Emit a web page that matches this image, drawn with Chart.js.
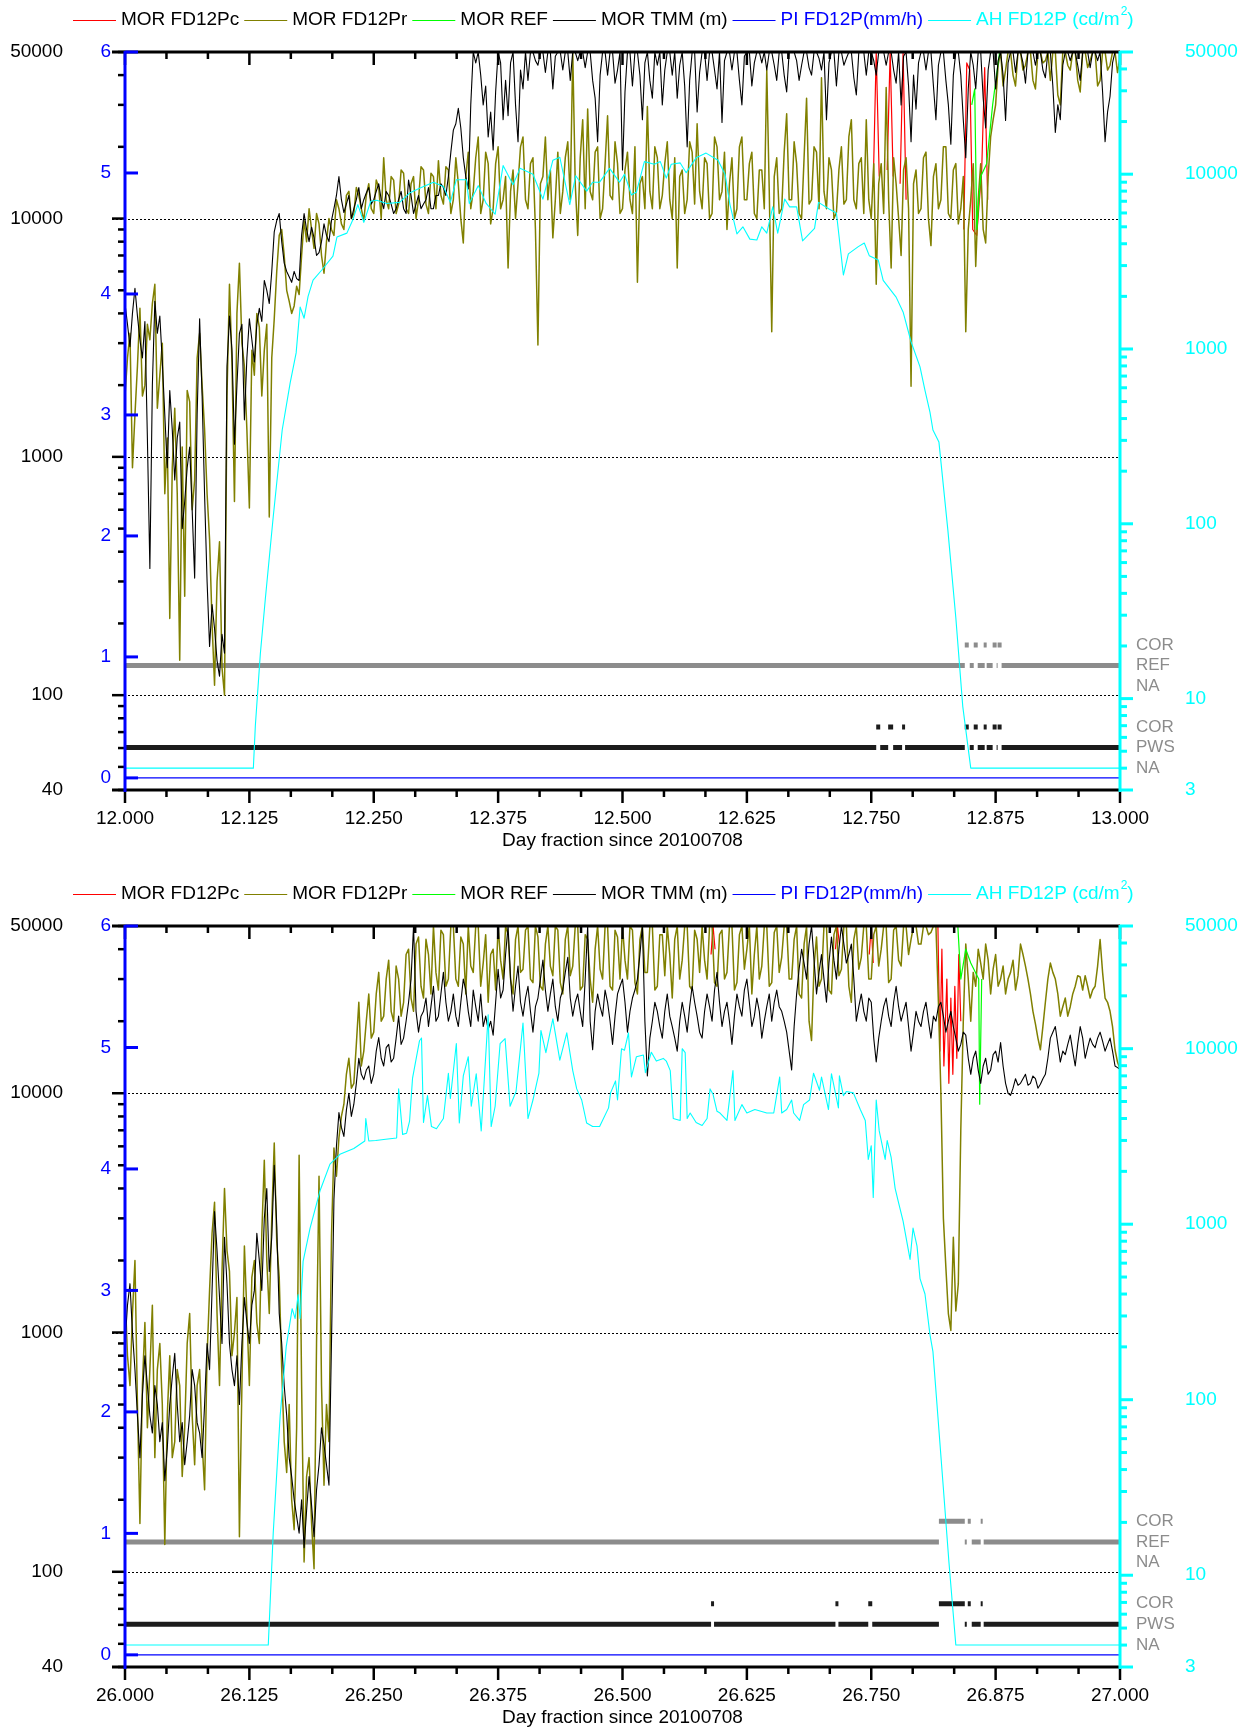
<!DOCTYPE html>
<html>
<head>
<meta charset="utf-8">
<script src="https://cdn.jsdelivr.net/npm/chart.js@4.4.0/dist/chart.umd.min.js"></script>
<style>
  body { margin: 0; background: #fff; }
  canvas { display: block; }
</style>
</head>
<body>
<canvas id="top" width="1249" height="875"></canvas>
<canvas id="bottom" width="1249" height="856"></canvas>
<script>
// ---- data ----
const sampleStep = 0.0025;         // day fraction between samples of the MOR series
const topDayTicks = [12.000, 12.125, 12.250, 12.375, 12.500, 12.625, 12.750, 12.875, 13.000];
const bottomDayTicks = [26.000, 26.125, 26.250, 26.375, 26.500, 26.625, 26.750, 26.875, 27.000];
const morTicks = [40, 100, 1000, 10000, 50000];
const morGrid = [100, 1000, 10000];
const piTicks = [0, 1, 2, 3, 4, 5, 6];
const ahTicks = [3, 10, 100, 1000, 10000, 50000];
const statusNames = ['NA', 'PWS', 'COR', 'NA', 'REF', 'COR'];
const statusLevels = [1, 2, 3, 5, 6, 7];
const seriesLabels = ['MOR FD12Pc', 'MOR FD12Pr', 'MOR REF', 'MOR TMM (m)', 'PI FD12P(mm/h)', 'AH FD12P (cd/m²)'];

// day 12 (top panel), one row = 0.05 day
const tmmTop = [
  4400, 3600, 2900, 4000, 5100, 3900, 3100, 2600, 3700, 1200, 340, 2000, 4500, 3300, 3900, 2500, 1500, 900, 1900, 1300,
  800, 1200, 1400, 500, 650, 900, 1100, 600, 310, 1500, 3800, 1800, 690, 300, 160, 240, 190, 140, 120, 180,
  150, 2400, 3900, 2800, 1130, 2000, 3300, 3600, 1430, 2600, 3800, 3100, 2500, 3600, 4200, 3700, 5500, 5000, 4400, 6000,
  8800, 9800, 10500, 8000, 6500, 6000, 5700, 5400, 6000, 5600, 5500, 8500, 10500, 9000, 8000, 9200, 8300, 7000, 7200, 8000,
  9500, 8500, 8000, 9800, 11000, 12500, 15000, 12000, 10600, 11500, 12500, 10000, 11000, 12000, 13500, 11000, 12000, 12800, 13500, 11500,
  12000, 13000, 14000, 12000, 11000, 13000, 12500, 11500, 10500, 11000, 12000, 13000, 11000, 10500, 14500, 12500, 10500, 11500, 12500, 11000,
  11500, 12000, 13500, 11000, 11000, 12500, 12500, 14000, 13500, 12500, 15000, 19000, 23500, 25000, 29000, 24000, 18000, 15000, 13300, 30000,
  50000, 45000, 50000, 40000, 30000, 36000, 22000, 28000, 19400, 34000, 50000, 45000, 26000, 38000, 27000, 45000, 50000, 30000, 21000, 42000,
  35000, 50000, 38000, 50000, 50000, 46000, 44000, 50000, 50000, 41000, 50000, 50000, 35000, 48000, 50000, 50000, 42000, 50000, 50000, 38000,
  50000, 50000, 46000, 50000, 50000, 43000, 50000, 50000, 38000, 32000, 21000, 40000, 50000, 50000, 40000, 50000, 50000, 37000, 42000, 50000,
  16000, 34000, 50000, 50000, 36000, 50000, 50000, 40000, 26000, 45000, 50000, 38000, 32000, 50000, 44000, 50000, 30000, 42000, 50000, 50000,
  40000, 50000, 32000, 44000, 50000, 36000, 20000, 38000, 50000, 50000, 28000, 41000, 50000, 50000, 38000, 50000, 50000, 42000, 35000, 50000,
  25300, 46000, 50000, 50000, 42000, 50000, 50000, 38000, 30000, 48000, 50000, 50000, 36000, 45000, 50000, 50000, 45000, 50000, 42000, 50000,
  50000, 44000, 38000, 50000, 50000, 40000, 34000, 50000, 50000, 50000, 46000, 38000, 44000, 50000, 50000, 43000, 40000, 50000, 50000, 47000,
  42000, 50000, 26000, 45000, 50000, 50000, 36000, 50000, 50000, 44000, 47000, 50000, 50000, 39000, 33000, 50000, 50000, 50000, 40000, 50000,
  50000, 46000, 40000, 50000, 50000, 50000, 44000, 50000, 50000, 42000, 37000, 50000, 30000, 48000, 50000, 36000, 21000, 40000, 28800, 45000,
  50000, 50000, 42000, 50000, 50000, 36000, 26000, 44000, 50000, 50000, 38000, 30000, 20500, 40000, 50000, 50000, 40000, 26000, 18000, 35000,
  50000, 44000, 35000, 50000, 50000, 32000, 24000, 42000, 50000, 50000, 35000, 46000, 50000, 40000, 25800, 45000, 50000, 50000, 41000, 50000,
  50000, 45000, 37000, 50000, 50000, 50000, 44000, 50000, 50000, 42000, 39000, 50000, 50000, 36000, 23000, 30000, 26000, 44000, 50000, 50000,
  46000, 50000, 50000, 44000, 38000, 50000, 50000, 50000, 43000, 50000, 50000, 46000, 50000, 34000, 21000, 28000, 32600, 45000, 50000, 50000,
  50000
];
const prTop = [
  1800, 2600, 3300, 900, 1500, 2400, 4200, 1800, 2000, 3600, 3100, 4400, 5300, 1600, 2200, 3000, 700, 1200, 210, 900,
  1600, 700, 140, 1100, 260, 1900, 1700, 600, 800, 2600, 3300, 2000, 1300, 700, 450, 200, 110, 300, 440, 130,
  100, 1800, 5300, 2500, 650, 4000, 6500, 3000, 2400, 1300, 610, 2800, 2200, 4000, 3500, 1800, 2800, 3600, 560, 2600,
  3800, 6000, 8500, 9000, 7000, 5000, 4500, 4000, 4300, 5200, 4800, 7000, 9800, 8000, 11000, 9000, 7500, 10500, 9500, 7000,
  5900, 8000, 10000, 9000, 8500, 12000, 11000, 9500, 9000, 12500, 13000, 10000, 10500, 13500, 12500, 11000, 9800, 12500, 14000, 11000,
  10500, 14500, 13500, 10000, 18000, 12000, 11000, 15000, 14500, 10500, 11500, 16000, 15500, 11000, 10500, 14000, 15000, 10000, 12000, 16500,
  16000, 11500, 10500, 15500, 15000, 11000, 17500, 12500, 11500, 16500, 16000, 10500, 12000, 18000, 14000, 10000, 7900, 15000, 19000, 11000,
  13000, 18000, 22000, 10500, 12000, 19000, 17000, 9500, 11000, 17000, 20000, 11000, 12000, 15000, 6200, 13000, 16000, 10000, 14000, 20000,
  22000, 12000, 11000, 17000, 18000, 9000, 2950, 14000, 15000, 22000, 12000, 16000, 8300, 12000, 19000, 10500, 13000, 18000, 21000, 12000,
  50000, 14000, 8500, 18000, 26000, 11000, 28800, 13000, 12000, 19000, 20000, 10000, 11000, 17000, 27000, 12500, 12000, 21000, 17000, 10500,
  11000, 16000, 19000, 12000, 10500, 20000, 5400, 14000, 15000, 11000, 29500, 13000, 11000, 20000, 18000, 11000, 12500, 17000, 21000, 12000,
  10000, 18000, 6200, 15000, 16000, 10500, 12000, 21000, 19000, 11500, 25000, 13000, 11000, 18000, 17000, 10000, 10500, 22000, 20000, 12000,
  13000, 19000, 9000, 14000, 18000, 10000, 11000, 20000, 22000, 12000, 12000, 17000, 19000, 10500, 10000, 16000, 16000, 11000, 42000, 13000,
  3350, 15000, 18000, 10500, 11000, 19000, 27500, 12000, 12000, 21000, 17000, 10500, 10000, 18000, 32000, 11500, 12000, 20000, 19000, 11000,
  39000, 13000, 11000, 18000, 16000, 10000, 10600, 16000, 20000, 11500, 12000, 22000, 26000, 12000, 11000, 17000, 18000, 10500, 26000, 12000,
  10000, 17000, 5300, 14000, 17000, 10500, 35500, 12000, 6200, 18000, 14000, 10000, 7000, 16000, 18000, 11000, 1980, 14000, 16000, 10500,
  11000, 18000, 19000, 10000, 7700, 15000, 17000, 11000, 12000, 20000, 20000, 10500, 10000, 16000, 17000, 9500, 11000, 15000, 3350, 9000,
  12000, 17000, 6300, 12000, 17000, 9000, 7900, 15000, 22000, 26000, 30000, 44000, 50000, 36000, 42000, 50000, 50000, 40000, 36000, 50000,
  50000, 42000, 44000, 50000, 50000, 38000, 35000, 50000, 50000, 45000, 46000, 50000, 38000, 50000, 50000, 33000, 30000, 50000, 50000, 44000,
  42000, 50000, 50000, 38000, 34000, 50000, 50000, 43000, 46000, 50000, 50000, 36000, 38000, 50000, 50000, 42000, 44000, 50000, 50000, 41000,
  47000
];
const pcTop = [
  [12.752, 14000], [12.755, 50000], [12.758, 15000], [12.760, null],
  [12.766, 16000], [12.769, 50000], [12.772, 15000], [12.775, null],
  [12.779, 14000], [12.782, 50000], [12.785, 12000], [12.800, null],
  [12.843, 9000], [12.846, 45000], [12.849, 42000], [12.852, 9000], [12.856, 8500],
  [12.861, 16000], [12.864, 43000], [12.867, 12000]
];
const refTop = [
  [12.851, 30000], [12.854, 35000], [12.856, 9000], [12.860, 15000],
  [12.866, 17000], [12.872, 30000], [12.879, 50000], [12.883, 50000]
];
const piTop = [[12.000, 0], [13.000, 0]];
const ahTop = [
  [12.000, 4], [12.129, 4], [12.131, 7], [12.136, 18], [12.141, 37], [12.149, 110],
  [12.158, 344], [12.166, 640], [12.172, 950], [12.176, 1740], [12.180, 1500], [12.184, 2000],
  [12.189, 2480], [12.198, 2840], [12.209, 3400], [12.213, 4370], [12.223, 4600], [12.229, 5480],
  [12.234, 6700], [12.240, 5300], [12.247, 7000], [12.253, 7100], [12.263, 6800], [12.276, 6900],
  [12.286, 7800], [12.296, 8300], [12.310, 9000], [12.320, 8500], [12.327, 6900], [12.333, 9300],
  [12.343, 9300], [12.346, 6800], [12.355, 8600], [12.363, 6800], [12.372, 5900], [12.380, 11200],
  [12.390, 8700], [12.397, 10800], [12.410, 10000], [12.420, 7200], [12.430, 12000], [12.437, 12500],
  [12.447, 6700], [12.453, 9800], [12.464, 8000], [12.470, 9000], [12.477, 9000], [12.487, 10800],
  [12.497, 9000], [12.502, 10000], [12.509, 7600], [12.514, 7900], [12.522, 11800], [12.532, 11400],
  [12.538, 11800], [12.544, 9500], [12.549, 11400], [12.558, 11600], [12.564, 10200], [12.574, 12400],
  [12.584, 13200], [12.596, 12000], [12.603, 10000], [12.608, 6700], [12.615, 4550], [12.621, 5000],
  [12.628, 4250], [12.635, 4200], [12.640, 5000], [12.645, 4600], [12.651, 6500], [12.656, 4600],
  [12.663, 7200], [12.668, 6500], [12.675, 6500], [12.681, 4150], [12.693, 4900], [12.697, 6900],
  [12.708, 6300], [12.715, 6000], [12.722, 2650], [12.727, 3500], [12.737, 3850], [12.743, 4040],
  [12.748, 3420], [12.757, 3230], [12.762, 2470], [12.775, 1980], [12.782, 1630], [12.790, 1100],
  [12.799, 790], [12.804, 580], [12.809, 435], [12.812, 344], [12.818, 294], [12.827, 92],
  [12.835, 29], [12.842, 9], [12.850, 4], [13.000, 4]
];
const refRunsTop = [[12.000, 12.844], [12.849, 12.853], [12.857, 12.864], [12.866, 12.872], [12.876, 12.877], [12.881, 13.000]];
const refCorTop = [[12.844, 12.848], [12.853, 12.857], [12.863, 12.866], [12.872, 12.876], [12.877, 12.881]];
const pwsRunsTop = [[12.000, 12.755], [12.759, 12.767], [12.772, 12.781], [12.784, 12.844], [12.849, 12.853], [12.857, 12.864], [12.866, 12.872], [12.876, 12.877], [12.881, 13.000]];
const pwsCorTop = [[12.755, 12.759], [12.767, 12.772], [12.781, 12.784], [12.844, 12.848], [12.853, 12.857], [12.863, 12.866], [12.872, 12.876], [12.877, 12.881]];

// day 26 (bottom panel), one row = 0.05 day
const tmmBottom = [
  900, 1300, 1600, 1000, 700, 450, 300, 550, 800, 600, 450, 380, 600, 500, 350, 420, 240, 330, 500, 650,
  818, 500, 350, 420, 280, 350, 450, 700, 600, 420, 380, 300, 500, 900, 700, 1500, 3200, 2200, 1400, 900,
  2500, 1600, 900, 700, 600, 800, 500, 900, 1400, 1100, 900, 1300, 1500, 2600, 2000, 1500, 3000, 4000, 1800, 2500,
  5000, 2800, 1200, 900, 600, 450, 300, 250, 200, 170, 145, 200, 126, 180, 250, 190, 140, 220, 280, 400,
  340, 280, 230, 900, 3600, 6000, 8300, 7200, 6600, 8500, 10000, 8000, 9000, 11000, 14000, 12000, 11400, 12500, 13000, 11000,
  12000, 15000, 17100, 14000, 13000, 15500, 16000, 13500, 14000, 17000, 21000, 16000, 17000, 20000, 24000, 30000, 50000, 22000, 18000, 21000,
  22000, 25000, 19000, 23000, 28000, 20000, 21000, 26000, 32000, 24000, 20000, 22000, 26000, 21000, 19000, 24000, 30000, 27000, 22000, 19000,
  27000, 23000, 20000, 26000, 19000, 21000, 18500, 20000, 17500, 24000, 33000, 25000, 27000, 38000, 50000, 30000, 22000, 28000, 34000, 24000,
  21000, 25000, 28000, 22000, 18000, 23000, 25000, 30000, 36000, 27000, 22000, 26000, 30000, 23000, 20000, 25000, 27000, 32000, 37000, 25000,
  21000, 24000, 26000, 22000, 19000, 30000, 50000, 20000, 15200, 22000, 26000, 23000, 21000, 27000, 24000, 20000, 16000, 21000, 26000, 28000,
  30000, 24000, 18000, 22000, 25000, 27000, 30000, 38000, 50000, 20000, 11800, 17000, 20000, 24000, 22000, 19000, 17000, 22000, 26000, 21000,
  19000, 17000, 15000, 20000, 24000, 21000, 18000, 23000, 28000, 24000, 21000, 18000, 17000, 22000, 26000, 23000, 20000, 27000, 32000, 24000,
  19000, 22000, 24000, 20000, 16000, 21000, 26000, 23000, 21000, 27000, 30000, 24000, 19000, 21000, 25000, 22000, 17000, 20000, 23000, 26000,
  20000, 24000, 27000, 23000, 22000, 20000, 18000, 15000, 12500, 19000, 26000, 33000, 40000, 35000, 30000, 42000, 50000, 36000, 26000, 32000,
  38000, 30000, 24000, 35000, 45000, 36000, 30000, 40000, 50000, 42000, 35000, 38000, 42000, 30000, 20000, 23000, 26000, 22000, 20000, 25000,
  24000, 17000, 13500, 17000, 20000, 23000, 25000, 21000, 19000, 24000, 28000, 23000, 20000, 22000, 24000, 19000, 15000, 18000, 22000, 20000,
  19000, 22000, 24000, 20000, 17000, 21000, 20000, 23000, 24000, 21000, 18000, 20000, 22000, 19000, 17000, 15000, 16000, 18000, 17500, 14000,
  12000, 14000, 15000, 12500, 11000, 13000, 14000, 12000, 12500, 14500, 15000, 13500, 16300, 13000, 11000, 10000, 9800, 10500, 11500, 10800,
  11000, 11500, 12000, 10800, 11000, 11800, 11500, 10500, 10900, 11500, 12000, 14000, 17000, 18000, 19000, 16000, 13500, 15000, 14500, 16000,
  17500, 15000, 13000, 16000, 19000, 17000, 14000, 15500, 17000, 16000, 15500, 17000, 18000, 16500, 15000, 16000, 17000, 15000, 13000, 12800,
  12600
];
const prBottom = [
  1500, 800, 600, 1200, 2000, 500, 159, 600, 1100, 400, 700, 1300, 300, 700, 900, 500, 130, 450, 800, 300,
  350, 700, 600, 250, 400, 900, 1200, 450, 280, 600, 700, 350, 220, 800, 1500, 2600, 3500, 1200, 600, 1800,
  4000, 2200, 1800, 800, 1000, 1400, 140, 600, 2300, 1200, 600, 1700, 2000, 1100, 900, 2600, 5250, 2000, 1200, 3000,
  6200, 2400, 1700, 700, 350, 260, 500, 200, 150, 400, 5500, 600, 110, 250, 300, 160, 103, 900, 4500, 600,
  230, 500, 350, 2500, 5900, 4500, 6500, 8000, 9000, 12000, 14000, 10500, 11000, 16000, 24000, 13000, 15000, 20000, 26000, 17000,
  18000, 26000, 32000, 20000, 21000, 30000, 36000, 22000, 20000, 34000, 30000, 21000, 24000, 38000, 40000, 25000, 22000, 42000, 45000, 28000,
  25000, 44000, 38000, 26000, 50000, 32000, 27000, 48000, 46000, 28000, 30000, 50000, 50000, 30000, 28000, 45000, 42000, 26000, 50000, 34000,
  32000, 50000, 50000, 28000, 35000, 46000, 24000, 38000, 40000, 27000, 50000, 36000, 30000, 50000, 46000, 30000, 26000, 44000, 50000, 32000,
  33000, 48000, 50000, 30000, 29000, 50000, 45000, 28000, 27000, 42000, 50000, 34000, 31000, 50000, 48000, 29000, 26000, 44000, 50000, 31000,
  34000, 50000, 50000, 27000, 28000, 46000, 44000, 30000, 24000, 40000, 50000, 33000, 30000, 50000, 50000, 28000, 27000, 48000, 45000, 30000,
  50000, 36000, 30000, 50000, 48000, 29000, 26000, 44000, 50000, 32000, 32000, 50000, 50000, 27000, 28000, 46000, 46000, 31000, 50000, 38000,
  25000, 44000, 50000, 30000, 36000, 50000, 50000, 28000, 27000, 48000, 44000, 32000, 50000, 36000, 30000, 50000, 50000, 29000, 28000, 46000,
  48000, 30000, 32000, 50000, 50000, 27000, 29000, 46000, 50000, 33000, 40000, 50000, 26000, 38000, 50000, 30000, 34000, 50000, 50000, 28000,
  29000, 47000, 50000, 32000, 37000, 50000, 50000, 30000, 30000, 44000, 50000, 26000, 25000, 42000, 50000, 20000, 16600, 34000, 45000, 28000,
  30000, 50000, 50000, 27000, 26000, 46000, 50000, 31000, 33000, 50000, 50000, 28000, 24000, 44000, 50000, 33000, 37000, 50000, 50000, 30000,
  30000, 46000, 50000, 34000, 40000, 50000, 50000, 29000, 30000, 48000, 50000, 36000, 34000, 50000, 50000, 38000, 44000, 50000, 50000, 42000,
  42000, 50000, 50000, 46000, 47000, 50000, 50000, 24000, 10000, 3000, 1870, 1200, 1020, 2500, 1230, 1600, 7000, 20000, 42000, 30000,
  20000, 32000, 28000, 40000, 35000, 30000, 42000, 36000, 26000, 33000, 38000, 28000, 30000, 34000, 26000, 30000, 32000, 36000, 27000, 31000,
  42000, 38000, 34000, 30000, 26000, 22000, 19500, 17000, 15200, 19000, 24000, 30000, 35000, 32000, 30000, 26000, 21000, 23000, 25000, 21000,
  23000, 26000, 28000, 31000, 30600, 27000, 31000, 28000, 25000, 27000, 28000, 34000, 43900, 32000, 25000, 24000, 22000, 19000, 15200, 13500,
  12600
];
const pcBottom = [
  [26.589, 38000], [26.591, 50000], [26.593, 40000], [26.600, null],
  [26.714, 40000], [26.716, 50000], [26.718, 42000], [26.730, null],
  [26.748, 38000], [26.750, 50000], [26.752, 35000], [26.760, null],
  [26.817, 50000], [26.819, 15000], [26.821, 40000], [26.823, 13000], [26.826, 30000],
  [26.828, 11000], [26.830, 25000], [26.832, 12000], [26.834, 28000], [26.836, 14000],
  [26.838, 38000], [26.840, 20000]
];
const refBottom = [
  [26.816, 50000], [26.837, 50000], [26.840, 30000], [26.845, 40000],
  [26.850, 35000], [26.858, 30000], [26.859, 9000], [26.861, 30000]
];
const piBottom = [[26.000, 0], [27.000, 0]];
const ahBottom = [
  [26.000, 4], [26.144, 4], [26.149, 17.5], [26.156, 82], [26.162, 200], [26.168, 330],
  [26.171, 290], [26.174, 397], [26.176, 290], [26.179, 614], [26.186, 950], [26.196, 1550],
  [26.206, 2200], [26.216, 2500], [26.230, 2700], [26.241, 2980], [26.242, 4000], [26.245, 2980],
  [26.252, 3000], [26.262, 3050], [26.273, 3100], [26.275, 5900], [26.279, 3250], [26.283, 3300],
  [26.286, 3870], [26.289, 6800], [26.296, 11100], [26.298, 11500], [26.300, 3800], [26.304, 5400],
  [26.308, 3600], [26.313, 3500], [26.320, 4000], [26.325, 7250], [26.327, 5200], [26.333, 10700],
  [26.336, 3770], [26.340, 7000], [26.345, 9000], [26.348, 4700], [26.353, 7200], [26.358, 3400],
  [26.365, 15600], [26.368, 3600], [26.372, 4700], [26.377, 10700], [26.382, 11400], [26.387, 4700],
  [26.393, 5700], [26.400, 14000], [26.405, 4000], [26.410, 5100], [26.416, 7250], [26.418, 12700],
  [26.423, 9500], [26.430, 14800], [26.437, 8600], [26.444, 12300], [26.450, 7500], [26.454, 5900],
  [26.459, 5100], [26.464, 3770], [26.470, 3600], [26.477, 3600], [26.486, 4600], [26.488, 5600],
  [26.493, 6550], [26.495, 5100], [26.499, 10000], [26.502, 9800], [26.506, 12300], [26.509, 6900],
  [26.514, 9000], [26.521, 9200], [26.523, 7300], [26.529, 9550], [26.534, 8500], [26.541, 8800],
  [26.544, 8500], [26.548, 7500], [26.551, 4000], [26.558, 3900], [26.560, 10000], [26.563, 9500],
  [26.565, 4000], [26.568, 4300], [26.574, 3800], [26.580, 3650], [26.585, 4000], [26.588, 5900],
  [26.591, 5500], [26.595, 4400], [26.598, 4300], [26.605, 3900], [26.611, 7500], [26.613, 3900],
  [26.620, 4800], [26.625, 4300], [26.633, 4500], [26.645, 4300], [26.652, 4300], [26.658, 6900],
  [26.660, 4300], [26.665, 4500], [26.670, 5100], [26.672, 4300], [26.678, 3900], [26.682, 4800],
  [26.688, 5100], [26.692, 7250], [26.698, 5800], [26.700, 6900], [26.707, 4500], [26.710, 7200],
  [26.717, 4600], [26.718, 7000], [26.722, 5400], [26.725, 5700], [26.732, 5600], [26.739, 4500],
  [26.744, 3900], [26.747, 2340], [26.750, 2800], [26.752, 1420], [26.755, 5100], [26.758, 3400],
  [26.764, 2340], [26.766, 3000], [26.770, 2400], [26.774, 1600], [26.777, 1360], [26.782, 1040],
  [26.789, 630], [26.792, 950], [26.796, 750], [26.799, 490], [26.804, 400], [26.809, 235],
  [26.812, 188], [26.817, 80], [26.822, 34], [26.828, 12], [26.835, 4], [27.000, 4]
];
const refRunsBottom = [[26.000, 26.818], [26.844, 26.846], [26.851, 26.860], [26.863, 27.000]];
const refCorBottom = [[26.818, 26.844], [26.847, 26.850], [26.860, 26.862]];
const pwsRunsBottom = [[26.000, 26.589], [26.592, 26.714], [26.717, 26.747], [26.751, 26.818], [26.844, 26.846], [26.851, 26.860], [26.863, 27.000]];
const pwsCorBottom = [[26.589, 26.592], [26.714, 26.717], [26.747, 26.751], [26.818, 26.844], [26.847, 26.850], [26.860, 26.862]];

// ---- helpers ----
const fam = '"Liberation Sans", Arial, sans-serif';
const colors = ['#ff0000', '#808000', '#00ff00', '#000000', '#0000ff', '#00ffff'];
const textColors = ['#000', '#000', '#000', '#000', '#0000ff', '#00ffff'];

function sampled(vals, t0) {
  return vals.map((v, i) => ({ x: t0 + i * sampleStep, y: v }));
}
function pairs(list) {
  return list.map(p => ({ x: p[0], y: p[1] }));
}
function runs(list, level) {
  const out = [];
  list.forEach(r => { out.push({ x: r[0], y: level }, { x: r[1], y: level }, { x: r[1], y: null }); });
  return out;
}
function logSteps(min, max) {
  const out = [];
  for (let e = Math.floor(Math.log10(min)); e <= Math.ceil(Math.log10(max)); e++) {
    for (let m = 1; m <= 9; m++) {
      const v = m * Math.pow(10, e);
      if (v >= min && v <= max) out.push(v);
    }
  }
  return out;
}
function seg(ctx, x1, y1, x2, y2) {
  ctx.beginPath(); ctx.moveTo(x1, y1); ctx.lineTo(x2, y2); ctx.stroke();
}

// axes, ticks, status labels, legend and title
const deco = {
  id: 'deco',
  beforeDatasetsDraw(chart) {
    const { ctx, chartArea: a, scales } = chart;
    ctx.save();
    ctx.strokeStyle = '#000';
    ctx.lineWidth = 1;
    ctx.setLineDash([2, 2]);
    morGrid.forEach(v => {
      const y = Math.round(scales.y.getPixelForValue(v)) + 0.5;
      seg(ctx, a.left - 13, y, a.right, y);
    });
    ctx.restore();
  },
  afterDatasetsDraw(chart) {
    const { ctx, chartArea: a, scales } = chart;
    const L = a.left, R = a.right, T = a.top, B = a.bottom;
    ctx.save();
    ctx.lineCap = 'butt';
    ctx.strokeStyle = '#000';
    ctx.lineWidth = 2.5;
    for (let k = 0; k <= 24; k++) {
      const x = scales.x.getPixelForValue(scales.x.min + k / 24);
      const len = k % 3 === 0 ? 13 : 7;
      seg(ctx, x, B, x, B + len);
      seg(ctx, x, T, x, T + len);
    }
    logSteps(40, 50000).forEach(v => {
      const y = scales.y.getPixelForValue(v);
      seg(ctx, L - (morGrid.includes(v) ? 13 : 7), y, L, y);
    });
    ctx.lineWidth = 3;
    seg(ctx, L - 13, T, R, T);
    seg(ctx, L - 13, B, R, B);

    ctx.strokeStyle = '#0000ff';
    seg(ctx, L, T - 1, L, B + 2);
    piTicks.forEach(v => {
      const y = scales.pi.getPixelForValue(v);
      seg(ctx, L, y, L + 13, y);
    });

    ctx.strokeStyle = '#00ffff';
    seg(ctx, R, T - 1, R, B + 2);
    logSteps(3, 50000).forEach(v => {
      const y = scales.ah.getPixelForValue(v);
      seg(ctx, R, y, R + (ahTicks.includes(v) ? 13 : 7), y);
    });

    ctx.fillStyle = '#8c8c8c';
    ctx.font = '17px ' + fam;
    ctx.textAlign = 'left';
    ctx.textBaseline = 'middle';
    statusNames.forEach((s, i) => ctx.fillText(s, R + 16, scales.st.getPixelForValue(statusLevels[i])));
    ctx.restore();
  },
  afterDraw(chart) {
    const { ctx, chartArea: a } = chart;
    ctx.save();
    ctx.font = '19px ' + fam;
    ctx.textBaseline = 'middle';
    ctx.textAlign = 'center';
    ctx.fillStyle = '#000';
    ctx.fillText('Day fraction since 20100708', (a.left + a.right) / 2, a.bottom + 51);

    ctx.textAlign = 'left';
    let x = 73;
    const y = a.top - 32;
    seriesLabels.forEach((lab, i) => {
      ctx.strokeStyle = colors[i];
      ctx.lineWidth = 1;
      seg(ctx, x, y + 0.5, x + 43, y + 0.5);
      x += 48;
      ctx.fillStyle = textColors[i];
      if (lab.endsWith('²)')) {
        const head = lab.slice(0, -2);
        ctx.font = '19px ' + fam;
        ctx.fillText(head, x, y);
        x += ctx.measureText(head).width;
        ctx.font = '12px ' + fam;
        ctx.fillText('2', x + 1, y - 8);
        x += ctx.measureText('2').width + 1;
        ctx.font = '19px ' + fam;
        ctx.fillText(')', x, y);
        x += ctx.measureText(')').width;
      } else {
        ctx.font = '19px ' + fam;
        ctx.fillText(lab, x, y);
        x += ctx.measureText(lab).width;
      }
      x += 5;
    });
    ctx.restore();
  }
};

function tickFont() { return { family: fam, size: 19 }; }

function makePanel(canvas, day0, dayTicks, padTop, axisH, d) {
  const base = { pointRadius: 0, fill: false, tension: 0, borderJoinStyle: 'round', spanGaps: false };
  const datasets = [
    Object.assign({ label: seriesLabels[0], data: pairs(d.pc), borderColor: colors[0], borderWidth: 1.2, yAxisID: 'y', order: 5 }, base),
    Object.assign({ label: seriesLabels[1], data: sampled(d.pr, day0), borderColor: colors[1], borderWidth: 1.5, yAxisID: 'y', order: 4 }, base),
    Object.assign({ label: seriesLabels[2], data: pairs(d.ref), borderColor: colors[2], borderWidth: 1.2, yAxisID: 'y', order: 3 }, base),
    Object.assign({ label: seriesLabels[3], data: sampled(d.tmm, day0), borderColor: colors[3], borderWidth: 1.1, yAxisID: 'y', order: 2 }, base),
    Object.assign({ label: seriesLabels[4], data: pairs(d.pi), borderColor: colors[4], borderWidth: 1.2, yAxisID: 'pi', order: 1 }, base),
    Object.assign({ label: seriesLabels[5], data: pairs(d.ah), borderColor: colors[5], borderWidth: 1.1, yAxisID: 'ah', order: 0 }, base),
    Object.assign({ label: 'REF', data: runs(d.refRuns, 6), borderColor: '#8c8c8c', borderWidth: 5, borderCapStyle: 'butt', yAxisID: 'st', order: 6 }, base),
    Object.assign({ label: 'REF COR', data: runs(d.refCor, 7), borderColor: '#8c8c8c', borderWidth: 5, borderCapStyle: 'butt', yAxisID: 'st', order: 6 }, base),
    Object.assign({ label: 'PWS', data: runs(d.pwsRuns, 2), borderColor: '#1c1c1c', borderWidth: 5, borderCapStyle: 'butt', yAxisID: 'st', order: 6 }, base),
    Object.assign({ label: 'PWS COR', data: runs(d.pwsCor, 3), borderColor: '#1c1c1c', borderWidth: 5, borderCapStyle: 'butt', yAxisID: 'st', order: 6 }, base)
  ];

  return new Chart(canvas, {
    type: 'line',
    data: { datasets: datasets },
    options: {
      responsive: false,
      animation: false,
      events: [],
      layout: { padding: { top: padTop, left: 0, right: 0, bottom: 0 } },
      plugins: { legend: { display: false }, tooltip: { enabled: false } },
      scales: {
        x: {
          type: 'linear', position: 'bottom', min: dayTicks[0], max: dayTicks[dayTicks.length - 1],
          afterBuildTicks: s => { s.ticks = dayTicks.map(v => ({ value: v })); },
          afterFit: s => { s.height = axisH; },
          grid: { display: false, drawTicks: false }, border: { display: false },
          ticks: { padding: 17, color: '#000', font: tickFont(), autoSkip: false, maxRotation: 0, callback: v => v.toFixed(3) }
        },
        y: {
          type: 'logarithmic', position: 'left', weight: 1, min: 40, max: 50000,
          afterBuildTicks: s => { s.ticks = morTicks.map(v => ({ value: v })); },
          afterFit: s => { s.width = 70; },
          grid: { display: false, drawTicks: false }, border: { display: false },
          ticks: { padding: 7, color: '#000', font: tickFont(), autoSkip: false, callback: v => String(v) }
        },
        pi: {
          type: 'linear', position: 'left', weight: 0, min: -0.1, max: 6,
          afterBuildTicks: s => { s.ticks = piTicks.map(v => ({ value: v })); },
          afterFit: s => { s.width = 55; },
          grid: { display: false, drawTicks: true, tickLength: 10 }, border: { display: false },
          ticks: { padding: 4, color: '#0000ff', font: tickFont(), autoSkip: false, callback: v => String(v) }
        },
        ah: {
          type: 'logarithmic', position: 'right', weight: 1, min: 3, max: 50000,
          afterBuildTicks: s => { s.ticks = ahTicks.map(v => ({ value: v })); },
          afterFit: s => { s.width = 129; },
          grid: { display: false, drawTicks: true, tickLength: 60 }, border: { display: false },
          ticks: { padding: 5, color: '#00ffff', font: tickFont(), autoSkip: false, callback: v => String(v) }
        },
        st: { type: 'linear', display: false, min: -0.07, max: 35.9 }
      }
    },
    plugins: [deco]
  });
}

makePanel(document.getElementById('top'), 12, topDayTicks, 52, 85, {
  tmm: tmmTop, pr: prTop, pc: pcTop, ref: refTop, pi: piTop, ah: ahTop,
  refRuns: refRunsTop, refCor: refCorTop, pwsRuns: pwsRunsTop, pwsCor: pwsCorTop
});
makePanel(document.getElementById('bottom'), 26, bottomDayTicks, 51, 64, {
  tmm: tmmBottom, pr: prBottom, pc: pcBottom, ref: refBottom, pi: piBottom, ah: ahBottom,
  refRuns: refRunsBottom, refCor: refCorBottom, pwsRuns: pwsRunsBottom, pwsCor: pwsCorBottom
});
</script>
</body>
</html>
